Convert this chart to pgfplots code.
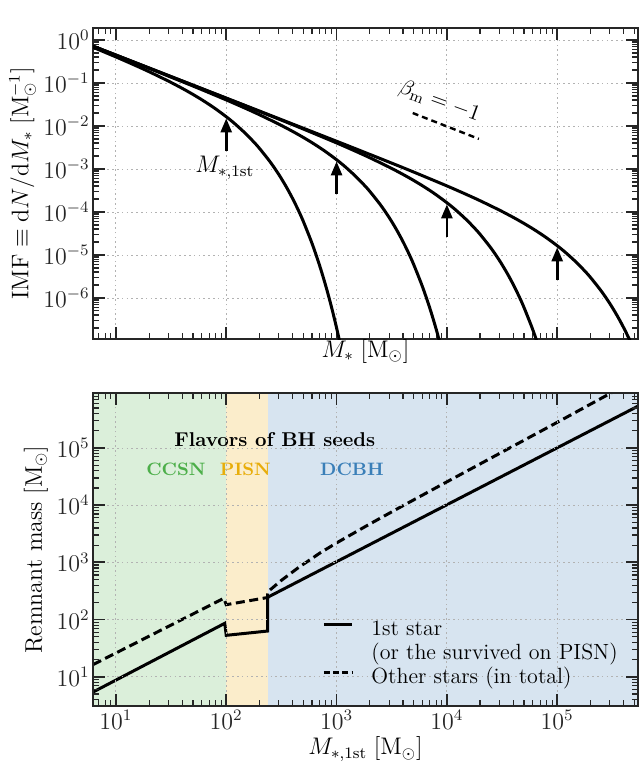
\documentclass[border=0pt]{standalone}
\usepackage{fontspec}
\usepackage{pgfplots}
\pgfplotsset{compat=1.18}
\usetikzlibrary{arrows.meta}
\newfontfamily\helv{Liberation Sans}
\definecolor{ccsnfill}{HTML}{DBEFDA}
\definecolor{pisnfill}{HTML}{FBEDCB}
\definecolor{dcbhfill}{HTML}{D7E4F0}
\definecolor{ccsntext}{HTML}{4DAF4A}
\definecolor{pisntext}{HTML}{E8AD0A}
\definecolor{dcbhtext}{HTML}{3A7FB8}
\begin{document}
\begin{tikzpicture}
\path[use as bounding box] (0,0) rectangle (319.5pt,-384.5pt);
% ---------------- panel a ----------------
\begin{axis}[at={(46.5pt,-14pt)}, anchor=north west,
  scale only axis, width=272.5pt, height=155.5pt,
  xmode=log, ymode=log, xmin=6.2, xmax=5.4e5, ymin=1.11e-7, ymax=1.9,
  xtick={10,100,1000,10000,100000},
  ytick={1e-6,1e-5,1e-4,1e-3,1e-2,1e-1,1},
  minor xtick={7,8,9,20,30,40,50,60,70,80,90,200,300,400,500,600,700,800,900,2000,3000,4000,5000,6000,7000,8000,9000,20000,30000,40000,50000,60000,70000,80000,90000,200000,300000,400000,500000},
  minor ytick={2e-7,3e-7,4e-7,5e-7,6e-7,7e-7,8e-7,9e-7,2e-6,3e-6,4e-6,5e-6,6e-6,7e-6,8e-6,9e-6,2e-5,3e-5,4e-5,5e-5,6e-5,7e-5,8e-5,9e-5,2e-4,3e-4,4e-4,5e-4,6e-4,7e-4,8e-4,9e-4,2e-3,3e-3,4e-3,5e-3,6e-3,7e-3,8e-3,9e-3,2e-2,3e-2,4e-2,5e-2,6e-2,7e-2,8e-2,9e-2,0.2,0.3,0.4,0.5,0.6,0.7,0.8,0.9},
  xticklabels={},
  grid=major,
  major grid style={gray!60, line width=0.45pt, dash pattern=on 0.8pt off 1.6pt},
  axis line style={black!85, line width=0.8pt},
  major tick length=6pt, minor tick length=3pt,
  major tick style={line width=0.9pt, black!85},
  minor tick style={line width=0.6pt, black!85},
  tick label style={font=\fontsize{11.5}{12}\selectfont, text=black!85},
  yticklabel style={inner xsep=1.5pt},
  xlabel={$M_*\;[\mathrm{M}_\odot]$},
  ylabel={$\mathrm{IMF}\equiv\mathrm{d}N/\mathrm{d}M_*\;[\mathrm{M}_\odot^{-1}]$},
  xlabel style={font=\fontsize{12}{13}\selectfont, at={(axis description cs:0.5,-0.058)}, anchor=base},
  ylabel style={font=\fontsize{12}{13}\selectfont, at={(axis description cs:-0.129,0.5)}, anchor=center},
]
% M_c = 1e2
\addplot[black, line width=1.5pt, smooth] coordinates {(6.2,0.676) (10,0.4036) (15,0.2559) (20,0.1826) (30,0.1101) (40,0.07474) (50,0.0541) (60,0.0408) (70,0.03164) (80,0.02505) (100,0.01641) (120,0.011194) (150,0.006634) (180,0.004096) (200,0.003018) (250,0.0014644) (300,7.402e-4) (350,3.848e-4) (400,2.042e-4) (450,1.101e-4) (500,6.01e-5) (600,1.8426e-5) (700,5.81e-6) (800,1.87e-6) (900,6.116e-7) (1000,2.025e-7) (1100,6.77e-8)};
% M_c = 1e3
\addplot[black, line width=1.5pt, smooth] coordinates {(6.2,0.7149) (10,0.44156) (20,0.21858) (50,0.08485) (100,0.040356) (150,0.02559) (200,0.01826) (300,0.01101) (400,0.007474) (500,0.00541) (600,0.00408) (700,0.003164) (800,0.002505) (1000,0.001641) (1200,0.0011194) (1500,6.634e-4) (1800,4.096e-4) (2000,3.018e-4) (2500,1.4644e-4) (3000,7.402e-5) (3500,3.848e-5) (4000,2.042e-5) (4500,1.101e-5) (5000,6.01e-6) (6000,1.8426e-6) (7000,5.81e-7) (8000,1.87e-7) (9000,6.116e-8)};
% M_c = 1e4
\addplot[black, line width=1.5pt, smooth] coordinates {(6.2,0.7189) (10,0.4456) (100,0.044156) (300,0.014428) (500,0.008485) (1000,0.0040356) (1500,0.002559) (2000,0.001826) (3000,0.001101) (4000,7.474e-4) (5000,5.41e-4) (6000,4.08e-4) (7000,3.164e-4) (8000,2.505e-4) (10000,1.641e-4) (12000,1.1194e-4) (15000,6.634e-5) (18000,4.096e-5) (20000,3.018e-5) (25000,1.4644e-5) (30000,7.402e-6) (35000,3.848e-6) (40000,2.042e-6) (45000,1.101e-6) (50000,6.01e-7) (60000,1.8426e-7) (70000,5.81e-8)};
% M_c = 1e5
\addplot[black, line width=1.5pt, smooth] coordinates {(6.2,0.7193) (10,0.446) (100,0.04456) (1000,0.0044156) (3000,0.0014428) (5000,8.485e-4) (10000,4.0356e-4) (15000,2.559e-4) (20000,1.826e-4) (30000,1.101e-4) (40000,7.474e-5) (50000,5.41e-5) (60000,4.08e-5) (70000,3.164e-5) (80000,2.505e-5) (100000,1.641e-5) (120000,1.1194e-5) (150000,6.634e-6) (180000,4.096e-6) (200000,3.018e-6) (250000,1.4644e-6) (300000,7.402e-7) (350000,3.848e-7) (400000,2.042e-7) (450000,1.101e-7) (500000,6.01e-8)};
% arrows at M_*,1st
\addplot[black, line width=1.3pt, -{Triangle[length=7pt,width=5.5pt]}] coordinates {(100,2.6e-3) (100,1.5e-2)};
\addplot[black, line width=1.3pt, -{Triangle[length=7pt,width=5.5pt]}] coordinates {(1000,2.6e-4) (1000,1.5e-3)};
\addplot[black, line width=1.3pt, -{Triangle[length=7pt,width=5.5pt]}] coordinates {(10000,2.6e-5) (10000,1.5e-4)};
\addplot[black, line width=1.3pt, -{Triangle[length=7pt,width=5.5pt]}] coordinates {(100000,2.6e-6) (100000,1.5e-5)};
% slope guide
\addplot[black, line width=1.2pt, dash pattern=on 3pt off 2pt] coordinates {(4900,0.0200) (19500,0.0050)};
\node[font=\fontsize{12}{12}\selectfont] at (axis cs:97,1.05e-3) {$M_{*,\mathrm{1st}}$};
\node[rotate=-20, font=\fontsize{11}{11}\selectfont] at (axis cs:8600,0.037) {$\beta_{\mathrm{m}}=-1$};
\node[anchor=base west, font=\helv\bfseries\fontsize{11}{11}\selectfont] at (rel axis cs:0.011,1.036) {a};
\end{axis}
% ---------------- panel b ----------------
\begin{axis}[at={(46.5pt,-196.5pt)}, anchor=north west,
  axis on top,
  scale only axis, width=272.5pt, height=156.5pt,
  xmode=log, ymode=log, xmin=6.2, xmax=5.4e5, ymin=3.08, ymax=9.16e5,
  xtick={10,100,1000,10000,100000},
  ytick={10,100,1000,10000,100000},
  minor xtick={7,8,9,20,30,40,50,60,70,80,90,200,300,400,500,600,700,800,900,2000,3000,4000,5000,6000,7000,8000,9000,20000,30000,40000,50000,60000,70000,80000,90000,200000,300000,400000,500000},
  minor ytick={4,5,6,7,8,9,20,30,40,50,60,70,80,90,200,300,400,500,600,700,800,900,2000,3000,4000,5000,6000,7000,8000,9000,20000,30000,40000,50000,60000,70000,80000,90000,200000,300000,400000,500000,600000,700000,800000,900000},
  grid=major,
  major grid style={gray!60, line width=0.45pt, dash pattern=on 0.8pt off 1.6pt},
  axis line style={black!85, line width=0.8pt},
  major tick length=6pt, minor tick length=3pt,
  major tick style={line width=0.9pt, black!85},
  minor tick style={line width=0.6pt, black!85},
  tick label style={font=\fontsize{11.5}{12}\selectfont, text=black!85},
  yticklabel style={inner xsep=1.5pt},
  xticklabel style={inner ysep=2pt},
  xlabel={$M_{*,\mathrm{1st}}\;[\mathrm{M}_\odot]$},
  ylabel={Remnant mass $[\mathrm{M}_\odot]$},
  xlabel style={font=\fontsize{12}{13}\selectfont, at={(axis description cs:0.5,-0.1565)}, anchor=base},
  ylabel style={font=\fontsize{12}{13}\selectfont, at={(axis description cs:-0.105,0.5)}, anchor=center},
  legend style={at={(axis description cs:0.4202,0.2732)}, anchor=north west,
    draw=none, fill=none, inner sep=0pt, row sep=2pt, column sep=9pt,
    font=\fontsize{11}{11}\selectfont,
    nodes={inner sep=0pt, text height=0.75em, text depth=0.25em}},
  legend cell align=left,
  legend image code/.code={\draw[#1] (0pt,3.3pt) -- (14pt,3.3pt);},
]
\addplot[draw=none, fill=ccsnfill, forget plot] coordinates {(1,1) (100,1) (100,1e7) (1,1e7)};
\addplot[draw=none, fill=pisnfill, forget plot] coordinates {(100,1) (238,1) (238,1e7) (100,1e7)};
\addplot[draw=none, fill=dcbhfill, forget plot] coordinates {(238,1) (1e7,1) (1e7,1e7) (238,1e7)};
% 1st star
\addplot[black, line width=1.5pt, forget plot] coordinates {(6.2,5.4) (97,86) (100,53) (237,63) (237,245) (5.4e5,5.4e5)};
% other stars
\addplot[black, line width=1.5pt, dash pattern=on 4.5pt off 2.3pt, forget plot] coordinates {(6.2,16.3) (95,235) (100,182) (237,243) (238,305) (316,485) (447,800) (708,1460) (1000,2190) (2000,4690) (3760,9180) (10000,25600) (100000,281000) (540000,1660000)};
\addlegendimage{black, line width=1.5pt}
\addlegendentry{1st star}
\addlegendimage{empty legend}
\addlegendentry{(or the survived on PISN)}
\addlegendimage{black, line width=1.5pt, dash pattern=on 3pt off 1.6pt}
\addlegendentry{Other stars (in total)}
\node[font=\bfseries\fontsize{10}{10}\selectfont] at (axis cs:276,1.38e5) {Flavors of BH seeds};
\node[font=\bfseries\fontsize{9}{9}\selectfont, text=ccsntext] at (axis cs:35,4.3e4) {CCSN};
\node[font=\bfseries\fontsize{9}{9}\selectfont, text=pisntext] at (axis cs:149,4.3e4) {PISN};
\node[font=\bfseries\fontsize{9}{9}\selectfont, text=dcbhtext] at (axis cs:1380,4.3e4) {DCBH};
\node[anchor=base west, font=\helv\bfseries\fontsize{11}{11}\selectfont] at (rel axis cs:0.011,1.026) {b};
\end{axis}
\end{tikzpicture}
\end{document}
